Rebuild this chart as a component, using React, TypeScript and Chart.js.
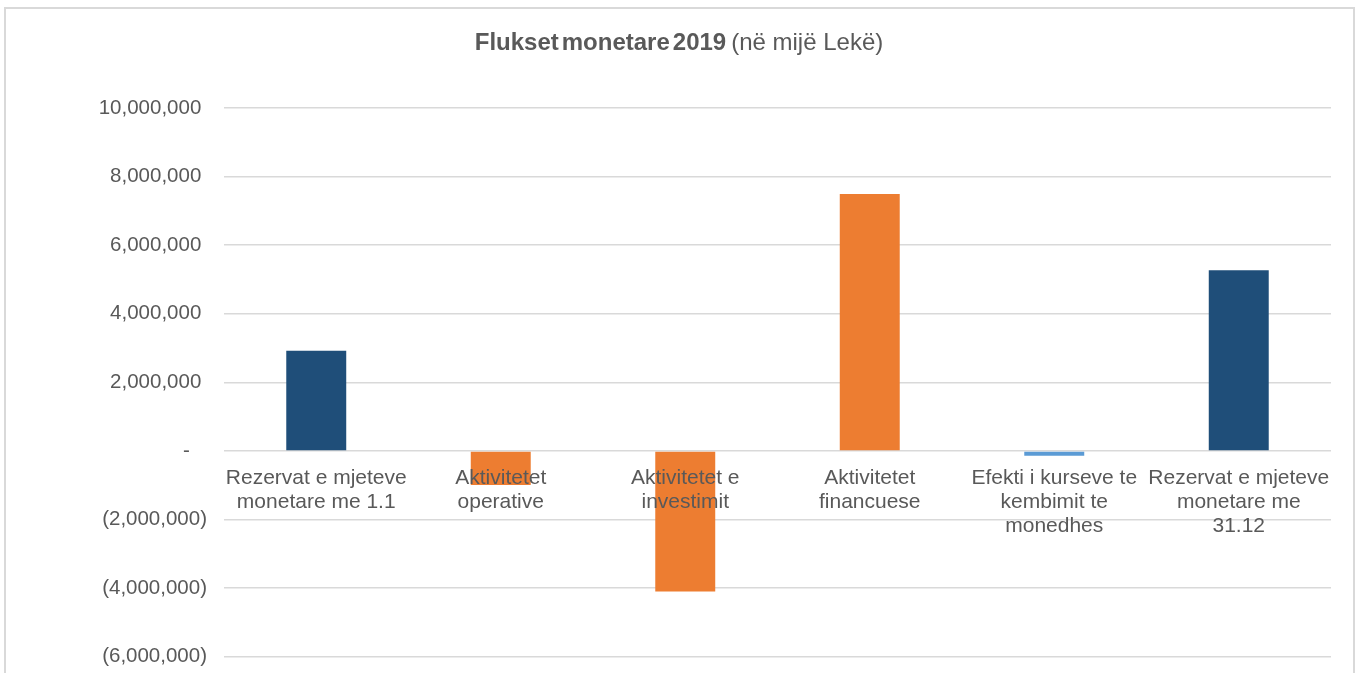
import React, { useEffect, useRef } from "react";
import { Chart, registerables } from "chart.js";

Chart.register(...registerables);

const categories: string[][] = [
  ["Rezervat e mjeteve", "monetare me 1.1"],
  ["Aktivitetet", "operative"],
  ["Aktivitetet e", "investimit"],
  ["Aktivitetet", "financuese"],
  ["Efekti i kurseve te", "kembimit te", "monedhes"],
  ["Rezervat e mjeteve", "monetare me", "31.12"],
];
const values: number[] = [2920000, -990000, -4100000, 7490000, -140000, 5270000];
const barColors: string[] = ["#1F4E79", "#ED7D31", "#ED7D31", "#ED7D31", "#5B9BD5", "#1F4E79"];
const titleBold: string[] = ["Flukset", "monetare", "2019"];
const titleNormal = "(në mijë Lekë)";
const yMin = -6000000;
const yMax = 10000000;
const yStep = 2000000;

const TEXT = "#595959";
const FONT = "'Liberation Sans', Arial, sans-serif";

function fmt(v: number): string {
  if (v === 0) return "-\u2007\u2008";
  const s = Math.abs(v).toLocaleString("en-US");
  return v < 0 ? `(${s})` : s + "\u2008";
}

const titlePlugin = {
  id: "mixedTitle",
  afterDraw(chart: any) {
    const ctx = chart.ctx;
    ctx.save();
    ctx.fillStyle = TEXT;
    ctx.textBaseline = "alphabetic";
    ctx.textAlign = "left";
    const bold = `bold 24px ${FONT}`;
    const normal = `24px ${FONT}`;
    const gap = 3;
    ctx.font = bold;
    const bw = titleBold.map((w) => ctx.measureText(w).width);
    ctx.font = normal;
    const nw = ctx.measureText(titleNormal).width;
    const total = bw.reduce((a, b) => a + b, 0) + gap * (titleBold.length - 1) + 5 + nw;
    let x = 679 - total / 2;
    const y = 50;
    ctx.font = bold;
    titleBold.forEach((w, i) => {
      ctx.fillText(w, x, y);
      x += bw[i] + gap;
    });
    x += 2;
    ctx.font = normal;
    ctx.fillText(titleNormal, x, y);
    ctx.restore();
  },
};

export default function App() {
  const ref = useRef<HTMLCanvasElement | null>(null);
  useEffect(() => {
    if (!ref.current) return;
    const chart = new Chart(ref.current, {
      type: "bar",
      data: {
        labels: categories as any,
        datasets: [
          {
            data: values,
            backgroundColor: barColors,
            borderWidth: 0,
            barPercentage: 0.325,
            categoryPercentage: 1,
          },
        ],
      },
      options: {
        animation: false,
        responsive: false,
        layout: { padding: { top: 108, bottom: 4, left: 0, right: 28 } },
        plugins: { legend: { display: false }, title: { display: false }, tooltip: { enabled: false } },
        scales: {
          x: {
            position: { y: 0 } as any,
            grid: { display: false },
            border: { display: false },
            ticks: {
              z: 1,
              color: TEXT,
              font: { family: FONT, size: 21, lineHeight: 1.15 },
              padding: 7,
              autoSkip: false,
              maxRotation: 0,
              minRotation: 0,
            },
          },
          y: {
            min: yMin,
            max: yMax,
            afterFit: (axis: any) => {
              axis.width = 224;
            },
            grid: { color: "#D9D9D9", lineWidth: 1.5, drawTicks: false },
            border: { display: false },
            ticks: {
              stepSize: yStep,
              color: TEXT,
              padding: 17,
              font: { family: FONT, size: 20.5 },
              callback: (v: any) => fmt(Number(v)),
            },
          },
        },
      },
      plugins: [titlePlugin],
    });
    return () => chart.destroy();
  }, []);
  return (
    <div style={{ position: "fixed", left: 0, top: 0, width: 1359, height: 673, background: "#fff", overflow: "hidden" }}>
      <div
        style={{
          position: "absolute",
          left: 4,
          top: 7,
          width: 1347,
          height: 720,
          border: "2px solid #D9D9D9",
        }}
      />
      <canvas ref={ref} width={1359} height={686} style={{ position: "absolute", left: 0, top: 0 }} />
    </div>
  );
}
